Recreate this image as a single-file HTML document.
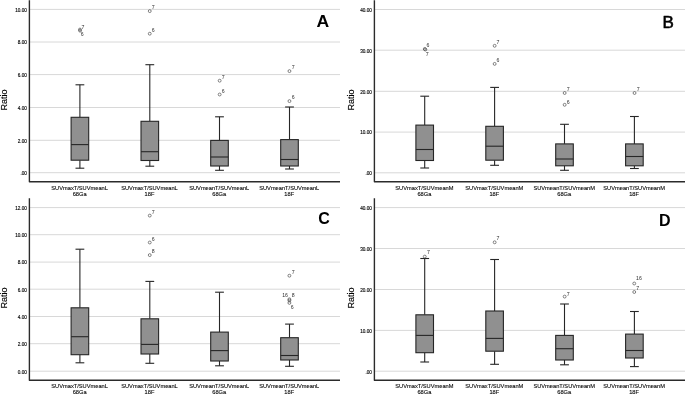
<!DOCTYPE html>
<html><head><meta charset="utf-8"><title>Boxplots</title>
<style>html,body{margin:0;padding:0;background:#fff;}body{width:685px;height:394px;overflow:hidden;}svg{display:block;will-change:transform;}text{font-family:"Liberation Sans", sans-serif;}</style>
</head><body>
<svg width="685" height="394" viewBox="0 0 685 394">
<rect x="0" y="0" width="685" height="394" fill="#ffffff"/>
<g>
<line x1="29.50" y1="9.40" x2="340.00" y2="9.40" stroke="#d8d8d8" stroke-width="1.0"/>
<line x1="29.50" y1="42.00" x2="340.00" y2="42.00" stroke="#d8d8d8" stroke-width="1.0"/>
<line x1="29.50" y1="74.60" x2="340.00" y2="74.60" stroke="#d8d8d8" stroke-width="1.0"/>
<line x1="29.50" y1="107.50" x2="340.00" y2="107.50" stroke="#d8d8d8" stroke-width="1.0"/>
<line x1="29.50" y1="140.30" x2="340.00" y2="140.30" stroke="#d8d8d8" stroke-width="1.0"/>
<line x1="29.50" y1="172.70" x2="340.00" y2="172.70" stroke="#d8d8d8" stroke-width="1.0"/>
<text transform="translate(26.90 11.70) scale(0.940 1)" font-size="5.00" text-anchor="end" fill="#0a0a0a" stroke="#000" stroke-width="0.14">10.00</text>
<text transform="translate(26.90 44.30) scale(0.940 1)" font-size="5.00" text-anchor="end" fill="#0a0a0a" stroke="#000" stroke-width="0.14">8.00</text>
<text transform="translate(26.90 76.90) scale(0.940 1)" font-size="5.00" text-anchor="end" fill="#0a0a0a" stroke="#000" stroke-width="0.14">6.00</text>
<text transform="translate(26.90 109.80) scale(0.940 1)" font-size="5.00" text-anchor="end" fill="#0a0a0a" stroke="#000" stroke-width="0.14">4.00</text>
<text transform="translate(26.90 142.60) scale(0.940 1)" font-size="5.00" text-anchor="end" fill="#0a0a0a" stroke="#000" stroke-width="0.14">2.00</text>
<text transform="translate(26.90 175.00) scale(0.940 1)" font-size="5.00" text-anchor="end" fill="#0a0a0a" stroke="#000" stroke-width="0.14">.00</text>
<line x1="79.90" y1="84.80" x2="79.90" y2="117.30" stroke="#262626" stroke-width="1.1"/>
<line x1="79.90" y1="160.20" x2="79.90" y2="168.20" stroke="#262626" stroke-width="1.1"/>
<line x1="75.50" y1="84.80" x2="84.30" y2="84.80" stroke="#262626" stroke-width="1.1"/>
<line x1="75.50" y1="168.20" x2="84.30" y2="168.20" stroke="#262626" stroke-width="1.1"/>
<rect x="71.10" y="117.30" width="17.60" height="42.90" fill="#909090" stroke="#262626" stroke-width="1.1"/>
<line x1="71.10" y1="144.60" x2="88.70" y2="144.60" stroke="#262626" stroke-width="1.1"/>
<line x1="149.80" y1="64.70" x2="149.80" y2="121.30" stroke="#262626" stroke-width="1.1"/>
<line x1="149.80" y1="160.50" x2="149.80" y2="166.20" stroke="#262626" stroke-width="1.1"/>
<line x1="145.40" y1="64.70" x2="154.20" y2="64.70" stroke="#262626" stroke-width="1.1"/>
<line x1="145.40" y1="166.20" x2="154.20" y2="166.20" stroke="#262626" stroke-width="1.1"/>
<rect x="141.00" y="121.30" width="17.60" height="39.20" fill="#909090" stroke="#262626" stroke-width="1.1"/>
<line x1="141.00" y1="151.70" x2="158.60" y2="151.70" stroke="#262626" stroke-width="1.1"/>
<line x1="219.50" y1="116.80" x2="219.50" y2="140.40" stroke="#262626" stroke-width="1.1"/>
<line x1="219.50" y1="166.00" x2="219.50" y2="170.30" stroke="#262626" stroke-width="1.1"/>
<line x1="215.10" y1="116.80" x2="223.90" y2="116.80" stroke="#262626" stroke-width="1.1"/>
<line x1="215.10" y1="170.30" x2="223.90" y2="170.30" stroke="#262626" stroke-width="1.1"/>
<rect x="210.70" y="140.40" width="17.60" height="25.60" fill="#909090" stroke="#262626" stroke-width="1.1"/>
<line x1="210.70" y1="157.00" x2="228.30" y2="157.00" stroke="#262626" stroke-width="1.1"/>
<line x1="289.50" y1="107.00" x2="289.50" y2="139.60" stroke="#262626" stroke-width="1.1"/>
<line x1="289.50" y1="166.00" x2="289.50" y2="169.00" stroke="#262626" stroke-width="1.1"/>
<line x1="285.10" y1="107.00" x2="293.90" y2="107.00" stroke="#262626" stroke-width="1.1"/>
<line x1="285.10" y1="169.00" x2="293.90" y2="169.00" stroke="#262626" stroke-width="1.1"/>
<rect x="280.70" y="139.60" width="17.60" height="26.40" fill="#909090" stroke="#262626" stroke-width="1.1"/>
<line x1="280.70" y1="159.50" x2="298.30" y2="159.50" stroke="#262626" stroke-width="1.1"/>
<circle cx="79.95" cy="29.55" r="1.45" fill="none" stroke="#3a3a3a" stroke-width="0.62"/>
<text x="82.95" y="28.55" font-size="5.20" text-anchor="middle" fill="#2e2e2e">7</text>
<circle cx="80.05" cy="30.65" r="1.45" fill="none" stroke="#3a3a3a" stroke-width="0.62"/>
<text x="82.20" y="35.85" font-size="5.20" text-anchor="middle" fill="#2e2e2e">6</text>
<circle cx="149.75" cy="11.10" r="1.45" fill="none" stroke="#3a3a3a" stroke-width="0.62"/>
<text x="153.20" y="9.45" font-size="5.20" text-anchor="middle" fill="#2e2e2e">7</text>
<circle cx="149.75" cy="33.70" r="1.45" fill="none" stroke="#3a3a3a" stroke-width="0.62"/>
<text x="153.20" y="32.35" font-size="5.20" text-anchor="middle" fill="#2e2e2e">6</text>
<circle cx="219.65" cy="80.70" r="1.45" fill="none" stroke="#3a3a3a" stroke-width="0.62"/>
<text x="223.20" y="78.95" font-size="5.20" text-anchor="middle" fill="#2e2e2e">7</text>
<circle cx="219.65" cy="94.50" r="1.45" fill="none" stroke="#3a3a3a" stroke-width="0.62"/>
<text x="223.20" y="92.95" font-size="5.20" text-anchor="middle" fill="#2e2e2e">6</text>
<circle cx="289.45" cy="71.10" r="1.45" fill="none" stroke="#3a3a3a" stroke-width="0.62"/>
<text x="293.20" y="69.45" font-size="5.20" text-anchor="middle" fill="#2e2e2e">7</text>
<circle cx="289.45" cy="101.10" r="1.45" fill="none" stroke="#3a3a3a" stroke-width="0.62"/>
<text x="293.20" y="99.45" font-size="5.20" text-anchor="middle" fill="#2e2e2e">6</text>
<path d="M29.40 0.30 L29.40 181.80 L340.00 181.80" fill="none" stroke="#2b2b2b" stroke-width="1.4" stroke-linejoin="round"/>
<text transform="translate(79.60 189.70) scale(0.920 1)" font-size="6.20" text-anchor="middle" fill="#0a0a0a" stroke="#000" stroke-width="0.12">SUVmaxT/SUVmeanL</text>
<text transform="translate(79.60 195.50) scale(0.920 1)" font-size="6.20" text-anchor="middle" fill="#0a0a0a" stroke="#000" stroke-width="0.12">68Ga</text>
<text transform="translate(149.50 189.70) scale(0.920 1)" font-size="6.20" text-anchor="middle" fill="#0a0a0a" stroke="#000" stroke-width="0.12">SUVmaxT/SUVmeanL</text>
<text transform="translate(149.50 195.50) scale(0.920 1)" font-size="6.20" text-anchor="middle" fill="#0a0a0a" stroke="#000" stroke-width="0.12">18F</text>
<text transform="translate(219.20 189.70) scale(0.920 1)" font-size="6.20" text-anchor="middle" fill="#0a0a0a" stroke="#000" stroke-width="0.12">SUVmeanT/SUVmeanL</text>
<text transform="translate(219.20 195.50) scale(0.920 1)" font-size="6.20" text-anchor="middle" fill="#0a0a0a" stroke="#000" stroke-width="0.12">68Ga</text>
<text transform="translate(289.20 189.70) scale(0.920 1)" font-size="6.20" text-anchor="middle" fill="#0a0a0a" stroke="#000" stroke-width="0.12">SUVmeanT/SUVmeanL</text>
<text transform="translate(289.20 195.50) scale(0.920 1)" font-size="6.20" text-anchor="middle" fill="#0a0a0a" stroke="#000" stroke-width="0.12">18F</text>
<text transform="translate(7.30 100.05) rotate(-90) scale(0.95 1)" font-size="9.50" text-anchor="middle" fill="#000" stroke="#000" stroke-width="0.15">Ratio</text>
<text transform="translate(322.80 26.80) scale(1.060 1)" font-size="16.60" font-weight="bold" text-anchor="middle" fill="#000" stroke="#000" stroke-width="0.00" stroke-linejoin="round">A</text>
</g>
<g>
<line x1="374.50" y1="9.50" x2="685.00" y2="9.50" stroke="#d8d8d8" stroke-width="1.0"/>
<line x1="374.50" y1="50.20" x2="685.00" y2="50.20" stroke="#d8d8d8" stroke-width="1.0"/>
<line x1="374.50" y1="91.30" x2="685.00" y2="91.30" stroke="#d8d8d8" stroke-width="1.0"/>
<line x1="374.50" y1="132.10" x2="685.00" y2="132.10" stroke="#d8d8d8" stroke-width="1.0"/>
<line x1="374.50" y1="172.80" x2="685.00" y2="172.80" stroke="#d8d8d8" stroke-width="1.0"/>
<text transform="translate(371.90 11.80) scale(0.940 1)" font-size="5.00" text-anchor="end" fill="#0a0a0a" stroke="#000" stroke-width="0.14">40.00</text>
<text transform="translate(371.90 52.50) scale(0.940 1)" font-size="5.00" text-anchor="end" fill="#0a0a0a" stroke="#000" stroke-width="0.14">30.00</text>
<text transform="translate(371.90 93.60) scale(0.940 1)" font-size="5.00" text-anchor="end" fill="#0a0a0a" stroke="#000" stroke-width="0.14">20.00</text>
<text transform="translate(371.90 134.40) scale(0.940 1)" font-size="5.00" text-anchor="end" fill="#0a0a0a" stroke="#000" stroke-width="0.14">10.00</text>
<text transform="translate(371.90 175.10) scale(0.940 1)" font-size="5.00" text-anchor="end" fill="#0a0a0a" stroke="#000" stroke-width="0.14">.00</text>
<line x1="424.70" y1="96.20" x2="424.70" y2="125.10" stroke="#262626" stroke-width="1.1"/>
<line x1="424.70" y1="160.50" x2="424.70" y2="168.00" stroke="#262626" stroke-width="1.1"/>
<line x1="420.30" y1="96.20" x2="429.10" y2="96.20" stroke="#262626" stroke-width="1.1"/>
<line x1="420.30" y1="168.00" x2="429.10" y2="168.00" stroke="#262626" stroke-width="1.1"/>
<rect x="415.90" y="125.10" width="17.60" height="35.40" fill="#909090" stroke="#262626" stroke-width="1.1"/>
<line x1="415.90" y1="149.50" x2="433.50" y2="149.50" stroke="#262626" stroke-width="1.1"/>
<line x1="494.60" y1="87.40" x2="494.60" y2="126.30" stroke="#262626" stroke-width="1.1"/>
<line x1="494.60" y1="160.20" x2="494.60" y2="165.30" stroke="#262626" stroke-width="1.1"/>
<line x1="490.20" y1="87.40" x2="499.00" y2="87.40" stroke="#262626" stroke-width="1.1"/>
<line x1="490.20" y1="165.30" x2="499.00" y2="165.30" stroke="#262626" stroke-width="1.1"/>
<rect x="485.80" y="126.30" width="17.60" height="33.90" fill="#909090" stroke="#262626" stroke-width="1.1"/>
<line x1="485.80" y1="146.20" x2="503.40" y2="146.20" stroke="#262626" stroke-width="1.1"/>
<line x1="564.50" y1="124.30" x2="564.50" y2="143.90" stroke="#262626" stroke-width="1.1"/>
<line x1="564.50" y1="165.80" x2="564.50" y2="170.30" stroke="#262626" stroke-width="1.1"/>
<line x1="560.10" y1="124.30" x2="568.90" y2="124.30" stroke="#262626" stroke-width="1.1"/>
<line x1="560.10" y1="170.30" x2="568.90" y2="170.30" stroke="#262626" stroke-width="1.1"/>
<rect x="555.70" y="143.90" width="17.60" height="21.90" fill="#909090" stroke="#262626" stroke-width="1.1"/>
<line x1="555.70" y1="159.00" x2="573.30" y2="159.00" stroke="#262626" stroke-width="1.1"/>
<line x1="634.40" y1="116.50" x2="634.40" y2="143.90" stroke="#262626" stroke-width="1.1"/>
<line x1="634.40" y1="165.80" x2="634.40" y2="168.50" stroke="#262626" stroke-width="1.1"/>
<line x1="630.00" y1="116.50" x2="638.80" y2="116.50" stroke="#262626" stroke-width="1.1"/>
<line x1="630.00" y1="168.50" x2="638.80" y2="168.50" stroke="#262626" stroke-width="1.1"/>
<rect x="625.60" y="143.90" width="17.60" height="21.90" fill="#909090" stroke="#262626" stroke-width="1.1"/>
<line x1="625.60" y1="156.50" x2="643.20" y2="156.50" stroke="#262626" stroke-width="1.1"/>
<circle cx="424.75" cy="48.95" r="1.45" fill="none" stroke="#3a3a3a" stroke-width="0.62"/>
<text x="427.90" y="47.15" font-size="5.20" text-anchor="middle" fill="#2e2e2e">6</text>
<circle cx="425.35" cy="49.55" r="1.45" fill="none" stroke="#3a3a3a" stroke-width="0.62"/>
<text x="427.10" y="55.95" font-size="5.20" text-anchor="middle" fill="#2e2e2e">7</text>
<circle cx="494.65" cy="45.80" r="1.45" fill="none" stroke="#3a3a3a" stroke-width="0.62"/>
<text x="498.00" y="43.95" font-size="5.20" text-anchor="middle" fill="#2e2e2e">7</text>
<circle cx="494.65" cy="63.90" r="1.45" fill="none" stroke="#3a3a3a" stroke-width="0.62"/>
<text x="498.00" y="61.95" font-size="5.20" text-anchor="middle" fill="#2e2e2e">6</text>
<circle cx="564.65" cy="93.00" r="1.45" fill="none" stroke="#3a3a3a" stroke-width="0.62"/>
<text x="568.20" y="91.45" font-size="5.20" text-anchor="middle" fill="#2e2e2e">7</text>
<circle cx="564.65" cy="104.80" r="1.45" fill="none" stroke="#3a3a3a" stroke-width="0.62"/>
<text x="568.20" y="103.55" font-size="5.20" text-anchor="middle" fill="#2e2e2e">6</text>
<circle cx="634.55" cy="93.00" r="1.45" fill="none" stroke="#3a3a3a" stroke-width="0.62"/>
<text x="638.10" y="91.45" font-size="5.20" text-anchor="middle" fill="#2e2e2e">7</text>
<path d="M374.40 0.30 L374.40 181.80 L685.00 181.80" fill="none" stroke="#2b2b2b" stroke-width="1.4" stroke-linejoin="round"/>
<text transform="translate(424.40 189.70) scale(0.920 1)" font-size="6.20" text-anchor="middle" fill="#0a0a0a" stroke="#000" stroke-width="0.12">SUVmaxT/SUVmeanM</text>
<text transform="translate(424.40 195.50) scale(0.920 1)" font-size="6.20" text-anchor="middle" fill="#0a0a0a" stroke="#000" stroke-width="0.12">68Ga</text>
<text transform="translate(494.30 189.70) scale(0.920 1)" font-size="6.20" text-anchor="middle" fill="#0a0a0a" stroke="#000" stroke-width="0.12">SUVmaxT/SUVmeanM</text>
<text transform="translate(494.30 195.50) scale(0.920 1)" font-size="6.20" text-anchor="middle" fill="#0a0a0a" stroke="#000" stroke-width="0.12">18F</text>
<text transform="translate(564.20 189.70) scale(0.920 1)" font-size="6.20" text-anchor="middle" fill="#0a0a0a" stroke="#000" stroke-width="0.12">SUVmeanT/SUVmeanM</text>
<text transform="translate(564.20 195.50) scale(0.920 1)" font-size="6.20" text-anchor="middle" fill="#0a0a0a" stroke="#000" stroke-width="0.12">68Ga</text>
<text transform="translate(634.10 189.70) scale(0.920 1)" font-size="6.20" text-anchor="middle" fill="#0a0a0a" stroke="#000" stroke-width="0.12">SUVmeanT/SUVmeanM</text>
<text transform="translate(634.10 195.50) scale(0.920 1)" font-size="6.20" text-anchor="middle" fill="#0a0a0a" stroke="#000" stroke-width="0.12">18F</text>
<text transform="translate(354.20 100.05) rotate(-90) scale(0.95 1)" font-size="9.50" text-anchor="middle" fill="#000" stroke="#000" stroke-width="0.15">Ratio</text>
<text transform="translate(668.10 27.70) scale(1.090 1)" font-size="15.60" font-weight="normal" text-anchor="middle" fill="#000" stroke="#000" stroke-width="0.55" stroke-linejoin="round">B</text>
</g>
<g>
<line x1="29.50" y1="207.60" x2="340.00" y2="207.60" stroke="#d8d8d8" stroke-width="1.0"/>
<line x1="29.50" y1="234.70" x2="340.00" y2="234.70" stroke="#d8d8d8" stroke-width="1.0"/>
<line x1="29.50" y1="262.10" x2="340.00" y2="262.10" stroke="#d8d8d8" stroke-width="1.0"/>
<line x1="29.50" y1="289.20" x2="340.00" y2="289.20" stroke="#d8d8d8" stroke-width="1.0"/>
<line x1="29.50" y1="316.50" x2="340.00" y2="316.50" stroke="#d8d8d8" stroke-width="1.0"/>
<line x1="29.50" y1="343.70" x2="340.00" y2="343.70" stroke="#d8d8d8" stroke-width="1.0"/>
<line x1="29.50" y1="371.20" x2="340.00" y2="371.20" stroke="#d8d8d8" stroke-width="1.0"/>
<text transform="translate(26.90 209.90) scale(0.940 1)" font-size="5.00" text-anchor="end" fill="#0a0a0a" stroke="#000" stroke-width="0.14">12.00</text>
<text transform="translate(26.90 237.00) scale(0.940 1)" font-size="5.00" text-anchor="end" fill="#0a0a0a" stroke="#000" stroke-width="0.14">10.00</text>
<text transform="translate(26.90 264.40) scale(0.940 1)" font-size="5.00" text-anchor="end" fill="#0a0a0a" stroke="#000" stroke-width="0.14">8.00</text>
<text transform="translate(26.90 291.50) scale(0.940 1)" font-size="5.00" text-anchor="end" fill="#0a0a0a" stroke="#000" stroke-width="0.14">6.00</text>
<text transform="translate(26.90 318.80) scale(0.940 1)" font-size="5.00" text-anchor="end" fill="#0a0a0a" stroke="#000" stroke-width="0.14">4.00</text>
<text transform="translate(26.90 346.00) scale(0.940 1)" font-size="5.00" text-anchor="end" fill="#0a0a0a" stroke="#000" stroke-width="0.14">2.00</text>
<text transform="translate(26.90 373.50) scale(0.940 1)" font-size="5.00" text-anchor="end" fill="#0a0a0a" stroke="#000" stroke-width="0.14">0.00</text>
<line x1="79.90" y1="249.20" x2="79.90" y2="307.80" stroke="#262626" stroke-width="1.1"/>
<line x1="79.90" y1="354.70" x2="79.90" y2="362.80" stroke="#262626" stroke-width="1.1"/>
<line x1="75.50" y1="249.20" x2="84.30" y2="249.20" stroke="#262626" stroke-width="1.1"/>
<line x1="75.50" y1="362.80" x2="84.30" y2="362.80" stroke="#262626" stroke-width="1.1"/>
<rect x="71.10" y="307.80" width="17.60" height="46.90" fill="#909090" stroke="#262626" stroke-width="1.1"/>
<line x1="71.10" y1="336.70" x2="88.70" y2="336.70" stroke="#262626" stroke-width="1.1"/>
<line x1="149.80" y1="281.40" x2="149.80" y2="318.80" stroke="#262626" stroke-width="1.1"/>
<line x1="149.80" y1="354.00" x2="149.80" y2="363.30" stroke="#262626" stroke-width="1.1"/>
<line x1="145.40" y1="281.40" x2="154.20" y2="281.40" stroke="#262626" stroke-width="1.1"/>
<line x1="145.40" y1="363.30" x2="154.20" y2="363.30" stroke="#262626" stroke-width="1.1"/>
<rect x="141.00" y="318.80" width="17.60" height="35.20" fill="#909090" stroke="#262626" stroke-width="1.1"/>
<line x1="141.00" y1="344.40" x2="158.60" y2="344.40" stroke="#262626" stroke-width="1.1"/>
<line x1="219.50" y1="292.20" x2="219.50" y2="332.10" stroke="#262626" stroke-width="1.1"/>
<line x1="219.50" y1="361.00" x2="219.50" y2="365.80" stroke="#262626" stroke-width="1.1"/>
<line x1="215.10" y1="292.20" x2="223.90" y2="292.20" stroke="#262626" stroke-width="1.1"/>
<line x1="215.10" y1="365.80" x2="223.90" y2="365.80" stroke="#262626" stroke-width="1.1"/>
<rect x="210.70" y="332.10" width="17.60" height="28.90" fill="#909090" stroke="#262626" stroke-width="1.1"/>
<line x1="210.70" y1="350.60" x2="228.30" y2="350.60" stroke="#262626" stroke-width="1.1"/>
<line x1="289.50" y1="324.10" x2="289.50" y2="337.70" stroke="#262626" stroke-width="1.1"/>
<line x1="289.50" y1="360.00" x2="289.50" y2="366.30" stroke="#262626" stroke-width="1.1"/>
<line x1="285.10" y1="324.10" x2="293.90" y2="324.10" stroke="#262626" stroke-width="1.1"/>
<line x1="285.10" y1="366.30" x2="293.90" y2="366.30" stroke="#262626" stroke-width="1.1"/>
<rect x="280.70" y="337.70" width="17.60" height="22.30" fill="#909090" stroke="#262626" stroke-width="1.1"/>
<line x1="280.70" y1="355.50" x2="298.30" y2="355.50" stroke="#262626" stroke-width="1.1"/>
<circle cx="149.75" cy="215.60" r="1.45" fill="none" stroke="#3a3a3a" stroke-width="0.62"/>
<text x="153.20" y="213.95" font-size="5.20" text-anchor="middle" fill="#2e2e2e">7</text>
<circle cx="149.75" cy="242.50" r="1.45" fill="none" stroke="#3a3a3a" stroke-width="0.62"/>
<text x="153.20" y="240.95" font-size="5.20" text-anchor="middle" fill="#2e2e2e">6</text>
<circle cx="149.75" cy="255.10" r="1.45" fill="none" stroke="#3a3a3a" stroke-width="0.62"/>
<text x="153.20" y="253.45" font-size="5.20" text-anchor="middle" fill="#2e2e2e">8</text>
<circle cx="289.40" cy="275.70" r="1.45" fill="none" stroke="#3a3a3a" stroke-width="0.62"/>
<text x="293.10" y="273.65" font-size="5.20" text-anchor="middle" fill="#2e2e2e">7</text>
<circle cx="289.40" cy="299.30" r="1.45" fill="none" stroke="#3a3a3a" stroke-width="0.62"/>
<text x="285.10" y="297.45" font-size="5.20" text-anchor="middle" fill="#2e2e2e">16</text>
<circle cx="289.40" cy="300.50" r="1.45" fill="none" stroke="#3a3a3a" stroke-width="0.62"/>
<text x="293.30" y="297.45" font-size="5.20" text-anchor="middle" fill="#2e2e2e">8</text>
<circle cx="289.40" cy="302.90" r="1.45" fill="none" stroke="#3a3a3a" stroke-width="0.62"/>
<text x="292.30" y="309.35" font-size="5.20" text-anchor="middle" fill="#2e2e2e">6</text>
<path d="M29.40 198.30 L29.40 380.30 L340.00 380.30" fill="none" stroke="#2b2b2b" stroke-width="1.4" stroke-linejoin="round"/>
<text transform="translate(79.60 387.90) scale(0.920 1)" font-size="6.20" text-anchor="middle" fill="#0a0a0a" stroke="#000" stroke-width="0.12">SUVmaxT/SUVmeanL</text>
<text transform="translate(79.60 393.80) scale(0.920 1)" font-size="6.20" text-anchor="middle" fill="#0a0a0a" stroke="#000" stroke-width="0.12">68Ga</text>
<text transform="translate(149.50 387.90) scale(0.920 1)" font-size="6.20" text-anchor="middle" fill="#0a0a0a" stroke="#000" stroke-width="0.12">SUVmaxT/SUVmeanL</text>
<text transform="translate(149.50 393.80) scale(0.920 1)" font-size="6.20" text-anchor="middle" fill="#0a0a0a" stroke="#000" stroke-width="0.12">18F</text>
<text transform="translate(219.20 387.90) scale(0.920 1)" font-size="6.20" text-anchor="middle" fill="#0a0a0a" stroke="#000" stroke-width="0.12">SUVmeanT/SUVmeanL</text>
<text transform="translate(219.20 393.80) scale(0.920 1)" font-size="6.20" text-anchor="middle" fill="#0a0a0a" stroke="#000" stroke-width="0.12">68Ga</text>
<text transform="translate(289.20 387.90) scale(0.920 1)" font-size="6.20" text-anchor="middle" fill="#0a0a0a" stroke="#000" stroke-width="0.12">SUVmeanT/SUVmeanL</text>
<text transform="translate(289.20 393.80) scale(0.920 1)" font-size="6.20" text-anchor="middle" fill="#0a0a0a" stroke="#000" stroke-width="0.12">18F</text>
<text transform="translate(7.30 297.95) rotate(-90) scale(0.95 1)" font-size="9.50" text-anchor="middle" fill="#000" stroke="#000" stroke-width="0.15">Ratio</text>
<text transform="translate(324.10 224.30) scale(0.985 1)" font-size="16.30" font-weight="bold" text-anchor="middle" fill="#000" stroke="#000" stroke-width="0.00" stroke-linejoin="round">C</text>
</g>
<g>
<line x1="374.50" y1="207.60" x2="685.00" y2="207.60" stroke="#d8d8d8" stroke-width="1.0"/>
<line x1="374.50" y1="248.50" x2="685.00" y2="248.50" stroke="#d8d8d8" stroke-width="1.0"/>
<line x1="374.50" y1="289.50" x2="685.00" y2="289.50" stroke="#d8d8d8" stroke-width="1.0"/>
<line x1="374.50" y1="330.40" x2="685.00" y2="330.40" stroke="#d8d8d8" stroke-width="1.0"/>
<line x1="374.50" y1="371.20" x2="685.00" y2="371.20" stroke="#d8d8d8" stroke-width="1.0"/>
<text transform="translate(371.90 209.90) scale(0.940 1)" font-size="5.00" text-anchor="end" fill="#0a0a0a" stroke="#000" stroke-width="0.14">40.00</text>
<text transform="translate(371.90 250.80) scale(0.940 1)" font-size="5.00" text-anchor="end" fill="#0a0a0a" stroke="#000" stroke-width="0.14">30.00</text>
<text transform="translate(371.90 291.80) scale(0.940 1)" font-size="5.00" text-anchor="end" fill="#0a0a0a" stroke="#000" stroke-width="0.14">20.00</text>
<text transform="translate(371.90 332.70) scale(0.940 1)" font-size="5.00" text-anchor="end" fill="#0a0a0a" stroke="#000" stroke-width="0.14">10.00</text>
<text transform="translate(371.90 373.50) scale(0.940 1)" font-size="5.00" text-anchor="end" fill="#0a0a0a" stroke="#000" stroke-width="0.14">.00</text>
<line x1="424.70" y1="258.50" x2="424.70" y2="314.80" stroke="#262626" stroke-width="1.1"/>
<line x1="424.70" y1="352.70" x2="424.70" y2="362.00" stroke="#262626" stroke-width="1.1"/>
<line x1="420.30" y1="258.50" x2="429.10" y2="258.50" stroke="#262626" stroke-width="1.1"/>
<line x1="420.30" y1="362.00" x2="429.10" y2="362.00" stroke="#262626" stroke-width="1.1"/>
<rect x="415.90" y="314.80" width="17.60" height="37.90" fill="#909090" stroke="#262626" stroke-width="1.1"/>
<line x1="415.90" y1="335.40" x2="433.50" y2="335.40" stroke="#262626" stroke-width="1.1"/>
<line x1="494.60" y1="259.50" x2="494.60" y2="311.00" stroke="#262626" stroke-width="1.1"/>
<line x1="494.60" y1="351.20" x2="494.60" y2="364.30" stroke="#262626" stroke-width="1.1"/>
<line x1="490.20" y1="259.50" x2="499.00" y2="259.50" stroke="#262626" stroke-width="1.1"/>
<line x1="490.20" y1="364.30" x2="499.00" y2="364.30" stroke="#262626" stroke-width="1.1"/>
<rect x="485.80" y="311.00" width="17.60" height="40.20" fill="#909090" stroke="#262626" stroke-width="1.1"/>
<line x1="485.80" y1="338.40" x2="503.40" y2="338.40" stroke="#262626" stroke-width="1.1"/>
<line x1="564.50" y1="304.00" x2="564.50" y2="335.40" stroke="#262626" stroke-width="1.1"/>
<line x1="564.50" y1="360.00" x2="564.50" y2="364.80" stroke="#262626" stroke-width="1.1"/>
<line x1="560.10" y1="304.00" x2="568.90" y2="304.00" stroke="#262626" stroke-width="1.1"/>
<line x1="560.10" y1="364.80" x2="568.90" y2="364.80" stroke="#262626" stroke-width="1.1"/>
<rect x="555.70" y="335.40" width="17.60" height="24.60" fill="#909090" stroke="#262626" stroke-width="1.1"/>
<line x1="555.70" y1="348.70" x2="573.30" y2="348.70" stroke="#262626" stroke-width="1.1"/>
<line x1="634.40" y1="311.50" x2="634.40" y2="334.10" stroke="#262626" stroke-width="1.1"/>
<line x1="634.40" y1="358.00" x2="634.40" y2="366.60" stroke="#262626" stroke-width="1.1"/>
<line x1="630.00" y1="311.50" x2="638.80" y2="311.50" stroke="#262626" stroke-width="1.1"/>
<line x1="630.00" y1="366.60" x2="638.80" y2="366.60" stroke="#262626" stroke-width="1.1"/>
<rect x="625.60" y="334.10" width="17.60" height="23.90" fill="#909090" stroke="#262626" stroke-width="1.1"/>
<line x1="625.60" y1="350.50" x2="643.20" y2="350.50" stroke="#262626" stroke-width="1.1"/>
<circle cx="424.75" cy="256.60" r="1.45" fill="none" stroke="#3a3a3a" stroke-width="0.62"/>
<text x="428.40" y="254.25" font-size="5.20" text-anchor="middle" fill="#2e2e2e">7</text>
<circle cx="494.65" cy="242.30" r="1.45" fill="none" stroke="#3a3a3a" stroke-width="0.62"/>
<text x="498.00" y="240.15" font-size="5.20" text-anchor="middle" fill="#2e2e2e">7</text>
<circle cx="564.65" cy="296.60" r="1.45" fill="none" stroke="#3a3a3a" stroke-width="0.62"/>
<text x="568.20" y="295.55" font-size="5.20" text-anchor="middle" fill="#2e2e2e">7</text>
<circle cx="634.25" cy="283.50" r="1.45" fill="none" stroke="#3a3a3a" stroke-width="0.62"/>
<text x="639.00" y="280.45" font-size="5.20" text-anchor="middle" fill="#2e2e2e">16</text>
<circle cx="634.25" cy="292.00" r="1.45" fill="none" stroke="#3a3a3a" stroke-width="0.62"/>
<text x="637.80" y="290.45" font-size="5.20" text-anchor="middle" fill="#2e2e2e">7</text>
<path d="M374.40 198.30 L374.40 380.30 L685.00 380.30" fill="none" stroke="#2b2b2b" stroke-width="1.4" stroke-linejoin="round"/>
<text transform="translate(424.40 387.90) scale(0.920 1)" font-size="6.20" text-anchor="middle" fill="#0a0a0a" stroke="#000" stroke-width="0.12">SUVmaxT/SUVmeanM</text>
<text transform="translate(424.40 393.80) scale(0.920 1)" font-size="6.20" text-anchor="middle" fill="#0a0a0a" stroke="#000" stroke-width="0.12">68Ga</text>
<text transform="translate(494.30 387.90) scale(0.920 1)" font-size="6.20" text-anchor="middle" fill="#0a0a0a" stroke="#000" stroke-width="0.12">SUVmaxT/SUVmeanM</text>
<text transform="translate(494.30 393.80) scale(0.920 1)" font-size="6.20" text-anchor="middle" fill="#0a0a0a" stroke="#000" stroke-width="0.12">18F</text>
<text transform="translate(564.20 387.90) scale(0.920 1)" font-size="6.20" text-anchor="middle" fill="#0a0a0a" stroke="#000" stroke-width="0.12">SUVmeanT/SUVmeanM</text>
<text transform="translate(564.20 393.80) scale(0.920 1)" font-size="6.20" text-anchor="middle" fill="#0a0a0a" stroke="#000" stroke-width="0.12">68Ga</text>
<text transform="translate(634.10 387.90) scale(0.920 1)" font-size="6.20" text-anchor="middle" fill="#0a0a0a" stroke="#000" stroke-width="0.12">SUVmeanT/SUVmeanM</text>
<text transform="translate(634.10 393.80) scale(0.920 1)" font-size="6.20" text-anchor="middle" fill="#0a0a0a" stroke="#000" stroke-width="0.12">18F</text>
<text transform="translate(354.20 297.95) rotate(-90) scale(0.95 1)" font-size="9.50" text-anchor="middle" fill="#000" stroke="#000" stroke-width="0.15">Ratio</text>
<text transform="translate(664.90 225.80) scale(1.000 1)" font-size="16.00" font-weight="bold" text-anchor="middle" fill="#000" stroke="#000" stroke-width="0.00" stroke-linejoin="round">D</text>
</g>
</svg>
</body></html>
